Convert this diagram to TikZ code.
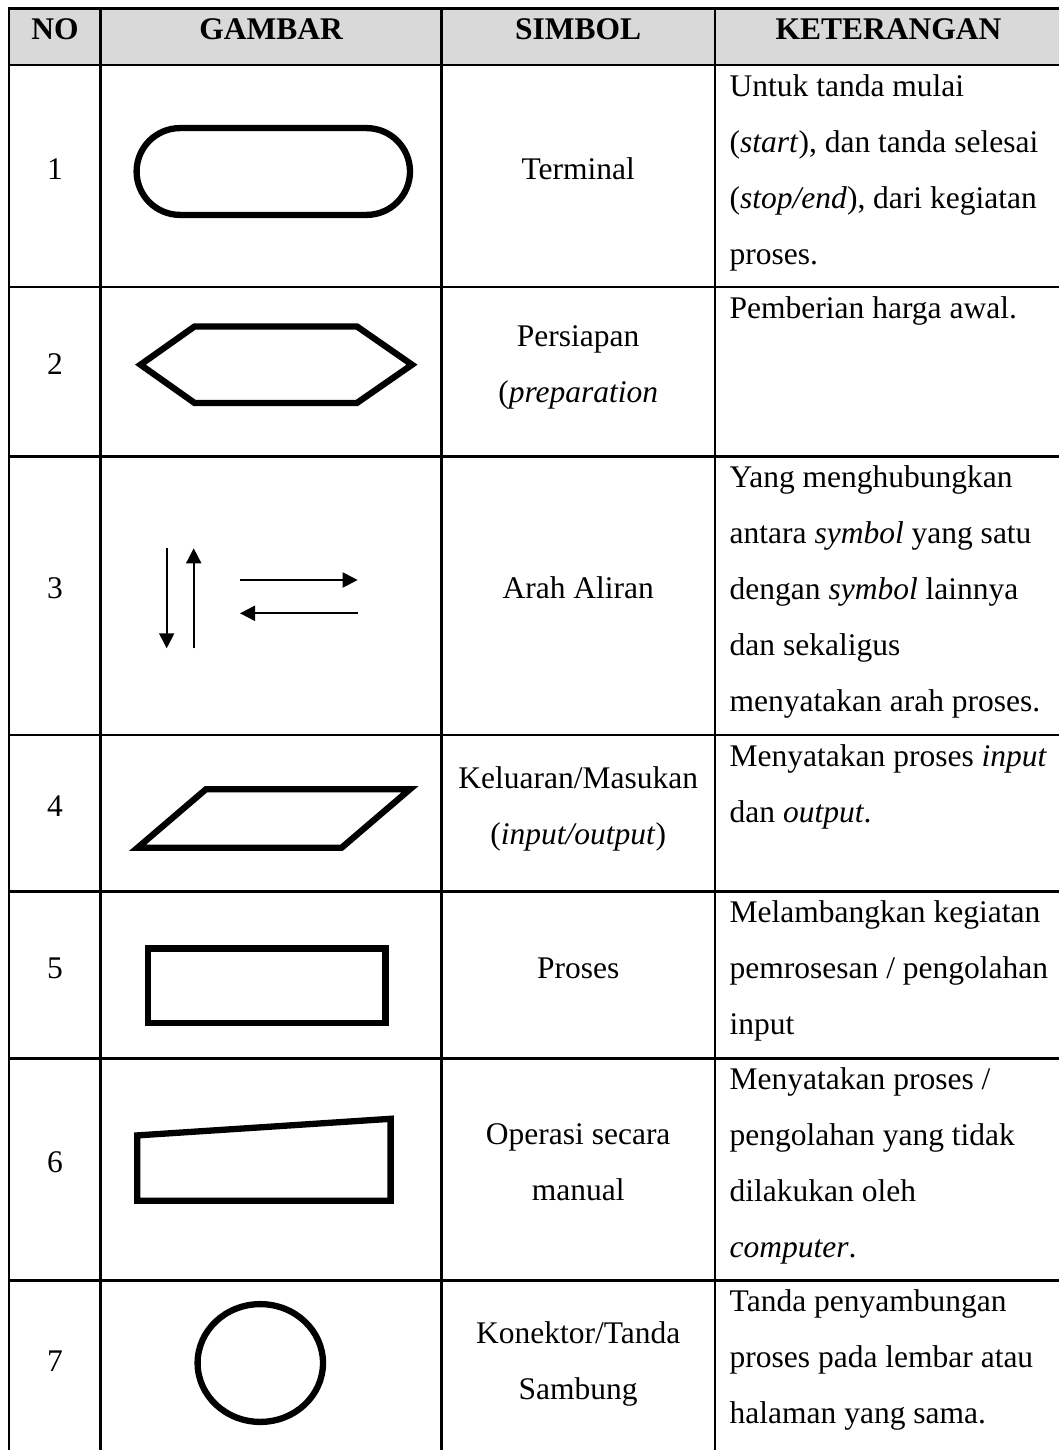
\documentclass[tikz,border=0pt]{standalone}
\usepackage{fontspec}
\setmainfont{Liberation Serif}
\usetikzlibrary{arrows.meta}
\definecolor{hdrgray}{HTML}{D9D9D9}
\newcommand\mystrut{\rule[-25pt]{0pt}{56pt}}
\begin{document}
\begin{tikzpicture}[x=1pt,y=1pt,
  tline/.style={line width=2.6pt, line cap=rect},
  shp/.style={line width=6.3pt, line join=miter},
  arr/.style={line width=2pt, -{Triangle[length=15pt,width=15pt]}},
  txt/.style={inner sep=0pt, font=\fontsize{31.5pt}{56pt}\selectfont},
  hdr/.style={inner sep=0pt, anchor=center, font=\fontsize{31.5pt}{56pt}\selectfont\bfseries},
  ctr/.style={txt, align=center, anchor=center},
  lft/.style={txt, align=left, anchor=north west},
]
\useasboundingbox (0,0) rectangle (1059,-1450);
\clip (0,0) rectangle (1059,-1450);

% header background
\fill[hdrgray] (9.1,-8.3) rectangle (1062,-65);

% table rules
\foreach \yy in {8.3,65,287,456.7,735,891.5,1058.5,1280.7,1456}
  \draw[tline] (9.1,-\yy) -- (1062,-\yy);
\foreach \xx in {9.1,100.7,441.5,715,1062}
  \draw[tline] (\xx,-8.3) -- (\xx,-1456);

% header
\node[hdr] (hno)  at (54.9,-36.65) {\mystrut NO};
\node[hdr] (hgam) at (271.1,-36.65) {\mystrut GAMBAR};
\node[hdr] (hsim) at (578.2,-36.65) {\mystrut SIMBOL};
\node[hdr] (hket) at (888.5,-36.65) {\mystrut KETERANGAN};

% numbers
\node[ctr] (n1) at (54.9,-176)    {\mystrut 1};
\node[ctr] (n2) at (54.9,-371.85) {\mystrut 2};
\node[ctr] (n3) at (54.9,-595.85) {\mystrut 3};
\node[ctr] (n4) at (54.9,-813.25) {\mystrut 4};
\node[ctr] (n5) at (54.9,-975)    {\mystrut 5};
\node[ctr] (n6) at (54.9,-1169.6) {\mystrut 6};
\node[ctr] (n7) at (54.9,-1368.35){\mystrut 7};

% symbol names
\node[ctr] (s1) at (578.2,-176)    {\mystrut Terminal};
\node[ctr] (s2) at (578.2,-371.85) {\mystrut Persiapan\\\mystrut(\textit{preparation}};
\node[ctr] (s3) at (578.2,-595.85) {\mystrut Arah Aliran};
\node[ctr] (s4) at (578.2,-813.25) {\mystrut Keluaran/Masukan\\\mystrut(\textit{input/output})};
\node[ctr] (s5) at (578.2,-975)    {\mystrut Proses};
\node[ctr] (s6) at (578.2,-1169.6) {\mystrut Operasi secara\\\mystrut manual};
\node[ctr] (s7) at (578.2,-1368.35){\mystrut Konektor/Tanda\\\mystrut Sambung};

% descriptions
\node[lft] (k1) at (729.5,-65) {\mystrut Untuk tanda mulai\\
  \mystrut(\textit{start}), dan tanda selesai\\
  \mystrut(\textit{stop/end}), dari kegiatan\\
  \mystrut proses.};
\node[lft] (k2) at (729.5,-287) {\mystrut Pemberian harga awal.};
\node[lft] (k3) at (729.5,-456.7) {\mystrut Yang menghubungkan\\
  \mystrut antara \textit{symbol} yang satu\\
  \mystrut dengan \textit{symbol} lainnya\\
  \mystrut dan sekaligus\\
  \mystrut menyatakan arah proses.};
\node[lft] (k4) at (729.5,-735) {\mystrut Menyatakan proses \textit{input}\\
  \mystrut dan \textit{output}.};
\node[lft] (k5) at (729.5,-891.5) {\mystrut Melambangkan kegiatan\\
  \mystrut pemrosesan / pengolahan\\
  \mystrut input};
\node[lft] (k6) at (729.5,-1058.5) {\mystrut Menyatakan proses /\\
  \mystrut pengolahan yang tidak\\
  \mystrut dilakukan oleh\\
  \mystrut\textit{computer}.};
\node[lft] (k7) at (729.5,-1280.7) {\mystrut Tanda penyambungan\\
  \mystrut proses pada lembar atau\\
  \mystrut halaman yang sama.};

% 1 terminal
\draw[shp] (180,-128.1) -- (366.6,-128.1)
  arc[start angle=90, end angle=-90, radius=43.4] -- (180,-214.9)
  arc[start angle=270, end angle=90, radius=43.4] -- cycle;

% 2 preparation (hexagon)
\draw[shp] (140.5,-364.7) -- (194.5,-326.5) -- (357,-326.5) -- (412,-364.7)
  -- (357,-402.9) -- (194.5,-402.9) -- cycle;

% 3 flow arrows
\coordinate (dA) at (166.7,-548.3);
\coordinate (dB) at (166.7,-648.3);
\coordinate (uA) at (193.7,-648.3);
\coordinate (uB) at (193.7,-548.3);
\coordinate (rA) at (240,-580);
\coordinate (rB) at (357.7,-580);
\coordinate (lA) at (357.7,-613.3);
\coordinate (lB) at (240,-613.3);
\draw[arr] (dA) -- (dB);
\draw[arr] (uA) -- (uB);
\draw[arr] (rA) -- (rB);
\draw[arr] (lA) -- (lB);

% 4 input/output (parallelogram)
\draw[shp] (137.5,-847.8) -- (206,-789.2) -- (410,-789.2) -- (341.5,-847.8) -- cycle;

% 5 process
\draw[shp] (147.8,-948.4) rectangle (385.6,-1022.8);

% 6 manual operation
\draw[shp] (137.3,-1200.8) -- (137.3,-1135.4) -- (390.6,-1118.8) -- (390.6,-1200.8) -- cycle;

% 7 connector
\draw[shp] (260.3,-1363) ellipse[x radius=62.7, y radius=58.9];
\end{tikzpicture}
\end{document}
